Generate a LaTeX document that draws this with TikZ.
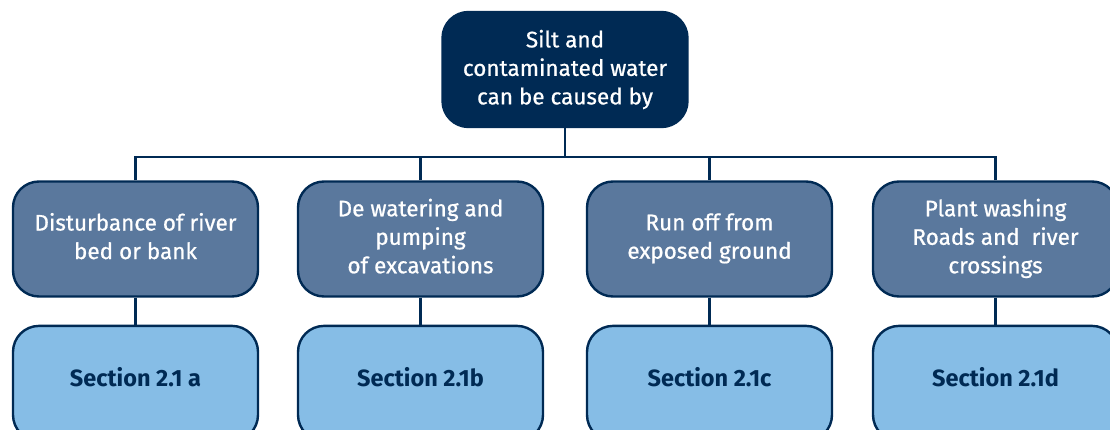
\documentclass[tikz,border=0pt]{standalone}
\usepackage{fontspec}
\setmainfont{Fira Sans}
\newfontfamily\medsans{Fira Sans}[FakeBold=0.7]
\usepackage{xcolor}
\usetikzlibrary{positioning}

\definecolor{navy}{HTML}{002A54}
\definecolor{steel}{HTML}{5A789D}
\definecolor{sky}{HTML}{86BDE6}

\begin{document}
\begin{tikzpicture}[x=1pt, y=1pt,
  font=\medsans\fontsize{22.5}{28.5}\selectfont,
  box/.style={draw=navy, line width=2.4pt, rounded corners=26pt, align=center,
              minimum width=245pt, minimum height=115pt, inner sep=2pt},
  head/.style={box, fill=navy, text=white},
  cause/.style={box, fill=steel, text=white, text depth=6pt},
  sect/.style={box, fill=sky, text=navy, text depth=12pt,
               font=\rmfamily\fontsize{23.5}{28.5}\selectfont\bfseries},
  link/.style={draw=navy, line width=2.4pt}]
  \useasboundingbox (0,0) rectangle (1110,-430);
  \node[head] (top) at (565,-69.5) {Silt and\\contaminated water\\can be caused by};
  \node[cause] (c1) at (135.5,-239) {Disturbance of river\\bed or bank};
  \node[cause] (c2) at (420.5,-239) {De watering and\\pumping\\of excavations};
  \node[cause] (c3) at (709.5,-239) {Run off from\\exposed ground};
  \node[cause] (c4) at (995.5,-239) {Plant washing\\Roads and\ \ river\\crossings};
  % section boxes below each cause
  \node[sect, below=27pt of c1] (s1) {Section 2.1 a};
  \node[sect, below=27pt of c2] (s2) {Section 2.1b};
  \node[sect, below=27pt of c3] (s3) {Section 2.1c};
  \node[sect, below=27pt of c4] (s4) {Section 2.1d};
  \coordinate (bus) at (565,-157);
  \draw[link] (top) -- (bus);
  \foreach \i in {1,...,4} {
    \draw[link] (c\i.north) |- (bus);
    \draw[link] (c\i) -- (s\i);
  }
\end{tikzpicture}
\end{document}
